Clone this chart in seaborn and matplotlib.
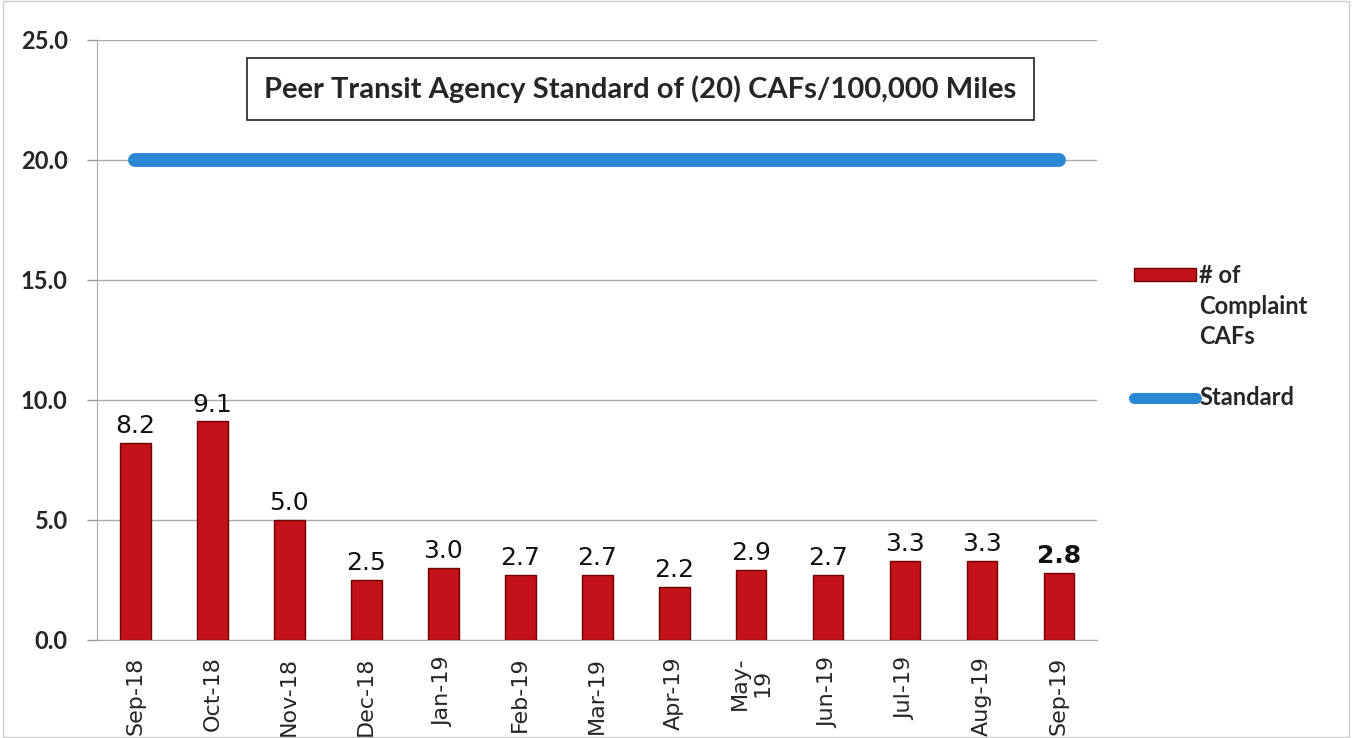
import numpy as np
import pandas as pd
import matplotlib
matplotlib.use("Agg")
import matplotlib.pyplot as plt
import seaborn as sns
from matplotlib.patches import Patch
from matplotlib.lines import Line2D

# chart data
months = ["Sep-18", "Oct-18", "Nov-18", "Dec-18", "Jan-19", "Feb-19", "Mar-19",
          "Apr-19", "May-19", "Jun-19", "Jul-19", "Aug-19", "Sep-19"]
tick_labels = ["Sep-18", "Oct-18", "Nov-18", "Dec-18", "Jan-19", "Feb-19", "Mar-19",
               "Apr-19", "May-\n19", "Jun-19", "Jul-19", "Aug-19", "Sep-19"]
complaint_cafs = [8.2, 9.1, 5.0, 2.5, 3.0, 2.7, 2.7, 2.2, 2.9, 2.7, 3.3, 3.3, 2.8]
standard = [20.0] * 13
y_ticks = [0, 5, 10, 15, 20, 25]

df = pd.DataFrame({"month": months, "cafs": complaint_cafs, "standard": standard})

sns.set_style("white")
plt.rcParams["font.family"] = ["Lato", "DejaVu Sans"]

fig = plt.figure(figsize=(13.52, 7.38), dpi=100)
ax = fig.add_axes([0.0717, 0.133, 0.740, 0.813])

bar_red = "#c4121a"
line_blue = "#2b87d1"

sns.barplot(data=df, x="month", y="cafs", color=bar_red, width=0.40,
            edgecolor="#6e0000", linewidth=1.0, saturation=1, ax=ax, zorder=3)
ax.plot(np.arange(len(months)), df["standard"], color=line_blue, lw=10,
        solid_capstyle="round", zorder=4)

# value labels
for i, v in enumerate(complaint_cafs):
    last = i == len(complaint_cafs) - 1
    ax.text(i, v + 0.2, f"{v:.1f}", ha="center", va="bottom",
            fontsize=18, family="DejaVu Sans",
            fontweight="bold" if last else "normal", color="#111111", zorder=5)

ax.set_xlim(-0.5, len(months) - 0.5)
ax.set_ylim(0, 25)
ax.set_yticks(y_ticks)
ax.set_yticklabels([f"{t:.1f}" for t in y_ticks], fontsize=17, fontweight="bold")
ax.set_xticks(range(len(months)))
ax.set_xticklabels(tick_labels, rotation=90, fontsize=16, family="DejaVu Sans",
                   linespacing=1.15)
ax.set_xticks(np.arange(-0.5, len(months)), minor=True)
ax.tick_params(axis="x", which="major", length=0, pad=12)
ax.tick_params(axis="x", which="minor", length=7, color="#999999", width=1)
ax.tick_params(axis="y", length=7, color="#999999", width=1, pad=14, left=True)
ax.set_xlabel("")
ax.set_ylabel("")

ax.grid(axis="y", color="#aaaaaa", lw=1)
ax.set_axisbelow(True)
for s in ["top", "right"]:
    ax.spines[s].set_visible(False)
ax.spines["left"].set_color("#aaaaaa")
ax.spines["bottom"].set_color("#aaaaaa")

ax.text(0.543, 0.918, "Peer Transit Agency Standard of (20) CAFs/100,000 Miles",
        transform=ax.transAxes, ha="center", va="center", fontsize=21,
        fontweight="bold",
        bbox=dict(boxstyle="square,pad=0.6", fc="white", ec="#222222", lw=1.2),
        zorder=6)

# legend: bar handle sits on the first text line, as in the original
blank = Patch(visible=False)
handles = [Patch(facecolor=bar_red, edgecolor="#6e0000"), blank, blank, blank,
           Line2D([0], [0], color=line_blue, lw=8, solid_capstyle="round")]
labels = ["# of", "Complaint", "CAFs", "", "Standard"]
fig.legend(handles, labels, loc="upper left", bbox_to_anchor=(0.832, 0.655),
           frameon=False, prop={"size": 17, "weight": "bold"}, handlelength=2.6,
           handleheight=0.45, handletextpad=0.15, labelspacing=0.32,
           borderaxespad=0)

# light frame around the figure
fig.patches.append(plt.Rectangle((0.002, 0.002), 0.996, 0.996, transform=fig.transFigure,
                                 fill=False, ec="#cccccc", lw=1))

fig.savefig("out.png", dpi=100)
